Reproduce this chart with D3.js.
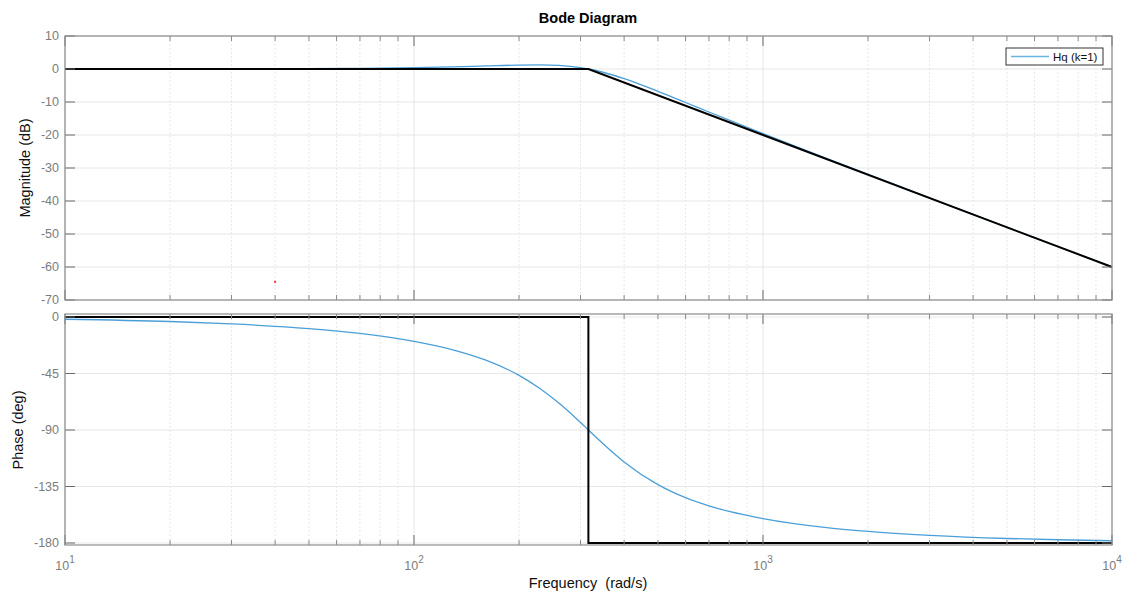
<!DOCTYPE html>
<html><head><meta charset="utf-8">
<script src="https://cdn.jsdelivr.net/npm/d3@7"></script>
<style>body{margin:0;background:#fff;} svg{display:block;font-family:"Liberation Sans",Arial,sans-serif;}</style>
</head><body>
<svg id="c" width="1130" height="596"></svg>
<script>
// Frequencies (rad/s)
const freq = [10,20,30,50,70,100,130,160,200,230,260,300,316,350,400,500,600,700,800,1000,1500,2000,3000,5000,7000,10000];
// Hq (k=1) magnitude (dB)
const magDb = [0,0.02,0.04,0.11,0.21,0.41,0.66,0.92,1.19,1.24,1.07,0.41,0,-1.06,-2.92,-6.77,-10.15,-13.03,-15.51,-19.59,-26.85,-31.93,-39.04,-47.94,-53.79,-60];
// Hq (k=1) phase (deg)
const phaseDeg = [-1.8,-3.6,-5.5,-9.2,-13.1,-19.4,-26.3,-34.2,-46.5,-57.1,-68.5,-84,-90,-101.5,-115.4,-133.5,-143.9,-150.4,-154.9,-160.6,-167.6,-170.8,-173.9,-176.4,-177.4,-178.2];
// Asymptotes (black)
const asymMagFreq = [10,316,10000];
const asymMagDb = [0,0,-60];
const asymPhFreq = [10,316,316,10000];
const asymPhDeg = [0,0,-180,-180];
// stray marker
const strayPoint = [40,-64.5];
// ticks
const magTicks = [10,0,-10,-20,-30,-40,-50,-60,-70];
const phaseTicks = [0,-45,-90,-135,-180];
const decadeTicks = [10,100,1000,10000];
const decadeExp = ["1","2","3","4"];
const legendLabel = "Hq (k=1)";

const svg = d3.select("#c");
const L = 65, R = 1112;
const x = d3.scaleLog().domain([10,10000]).range([L,R]);
const yM = d3.scaleLinear().domain([-70,10]).range([300,36]);
const yP = d3.scaleLinear().domain([-180,0]).range([543,317]);
const boxM = [36,300], boxP = [314,545];

const minorTicks = [];
for (let d=10; d<10000; d*=10) for (let k=2;k<=9;k++) minorTicks.push(d*k);

function panel(y, yticks, box) {
  const [y1,y0] = box;
  const g = svg.append("g");
  g.selectAll(".mg").data(minorTicks).enter().append("line")
    .attr("x1",d=>x(d)).attr("x2",d=>x(d)).attr("y1",y1).attr("y2",y0)
    .attr("stroke","#e8e8e8").attr("stroke-width",1).attr("stroke-dasharray","2,2");
  g.selectAll(".Mg").data(decadeTicks).enter().append("line")
    .attr("x1",d=>x(d)).attr("x2",d=>x(d)).attr("y1",y1).attr("y2",y0)
    .attr("stroke","#e6e6e6").attr("stroke-width",1);
  g.selectAll(".yg").data(yticks).enter().append("line")
    .attr("x1",L).attr("x2",R).attr("y1",d=>y(d)).attr("y2",d=>y(d))
    .attr("stroke","#e6e6e6").attr("stroke-width",1);
  return g;
}
function frame(g, y, yticks, box) {
  const [y1,y0] = box;
  const tc = "#8a8a8a";
  [[y1,1],[y0,-1]].forEach(([yy,s])=>{
    g.selectAll(null).data(minorTicks).enter().append("line")
      .attr("x1",d=>x(d)).attr("x2",d=>x(d)).attr("y1",yy).attr("y2",yy+s*5)
      .attr("stroke",tc).attr("stroke-width",1);
    g.selectAll(null).data(decadeTicks).enter().append("line")
      .attr("x1",d=>x(d)).attr("x2",d=>x(d)).attr("y1",yy).attr("y2",yy+s*10)
      .attr("stroke","#6a6a6a").attr("stroke-width",1);
  });
  [[L,1],[R,-1]].forEach(([xx,s])=>{
    g.selectAll(null).data(yticks).enter().append("line")
      .attr("x1",xx).attr("x2",xx+s*10).attr("y1",d=>y(d)).attr("y2",d=>y(d))
      .attr("stroke","#6a6a6a").attr("stroke-width",1);
  });
  g.append("rect").attr("x",L).attr("y",y1).attr("width",R-L).attr("height",y0-y1)
    .attr("fill","none").attr("stroke","#8c8c8c").attr("stroke-width",1.2);
  g.selectAll(null).data(yticks).enter().append("text")
    .attr("x",L-6).attr("y",d=>y(d)).attr("dy","0.35em").attr("text-anchor","end")
    .attr("font-size",12.5).attr("fill","#7c7c7c").text(d=>d);
}

const gM = panel(yM, magTicks, boxM);
const gP = panel(yP, phaseTicks, boxP);

const lineM = d3.line().x(d=>x(d[0])).y(d=>yM(d[1])).curve(d3.curveMonotoneX);
const lineP = d3.line().x(d=>x(d[0])).y(d=>yP(d[1])).curve(d3.curveMonotoneX);
const lin = (ys)=>d3.line().x(d=>x(d[0])).y(d=>ys(d[1]));

const blue = "#4a9fd8";
gM.append("path").datum(freq.map((f,i)=>[f,magDb[i]])).attr("d",lineM)
  .attr("fill","none").attr("stroke",blue).attr("stroke-width",1.3);
gM.append("path").datum(asymMagFreq.map((f,i)=>[f,asymMagDb[i]])).attr("d",lin(yM))
  .attr("fill","none").attr("stroke","#000").attr("stroke-width",2);
gM.append("rect").attr("x",x(strayPoint[0])-1).attr("y",yM(strayPoint[1])-1)
  .attr("width",2).attr("height",2).attr("fill","#ff3030");

gP.append("path").datum(freq.map((f,i)=>[f,phaseDeg[i]])).attr("d",lineP)
  .attr("fill","none").attr("stroke",blue).attr("stroke-width",1.3);
gP.append("path").datum(asymPhFreq.map((f,i)=>[f,asymPhDeg[i]])).attr("d",lin(yP))
  .attr("fill","none").attr("stroke","#000").attr("stroke-width",2);

frame(gM, yM, magTicks, boxM);
frame(gP, yP, phaseTicks, boxP);

// x tick labels
const xl = svg.append("g").selectAll("text").data(decadeTicks).enter().append("text")
  .attr("x",d=>x(d)).attr("y",570).attr("text-anchor","middle")
  .attr("font-size",12.5).attr("fill","#7c7c7c");
xl.append("tspan").text("10");
xl.append("tspan").attr("dy",-7).attr("font-size",10).text((d,i)=>decadeExp[i]);

// labels
svg.append("text").attr("x",588).attr("y",23).attr("text-anchor","middle")
  .attr("font-size",14.5).attr("font-weight","bold").attr("fill","#000").text("Bode Diagram");
svg.append("text").attr("transform","translate(30,168) rotate(-90)").attr("text-anchor","middle")
  .attr("font-size",14.5).attr("fill","#111").text("Magnitude (dB)");
svg.append("text").attr("transform","translate(23,430) rotate(-90)").attr("text-anchor","middle")
  .attr("font-size",14.5).attr("fill","#111").text("Phase (deg)");
svg.append("text").attr("x",588).attr("y",588).attr("text-anchor","middle")
  .attr("font-size",14.5).attr("fill","#111").attr("xml:space","preserve").style("white-space","pre").text("Frequency  (rad/s)");

// legend
const lg = svg.append("g");
lg.append("rect").attr("x",1006).attr("y",48).attr("width",97).attr("height",17)
  .attr("fill","#fff").attr("stroke","#333").attr("stroke-width",1);
lg.append("line").attr("x1",1011).attr("x2",1049).attr("y1",56.5).attr("y2",56.5)
  .attr("stroke","#6ab4e4").attr("stroke-width",1.5);
lg.append("text").attr("x",1053).attr("y",57).attr("dy","0.35em")
  .attr("font-size",11.5).attr("fill","#111").text(legendLabel);
</script>
</body></html>
